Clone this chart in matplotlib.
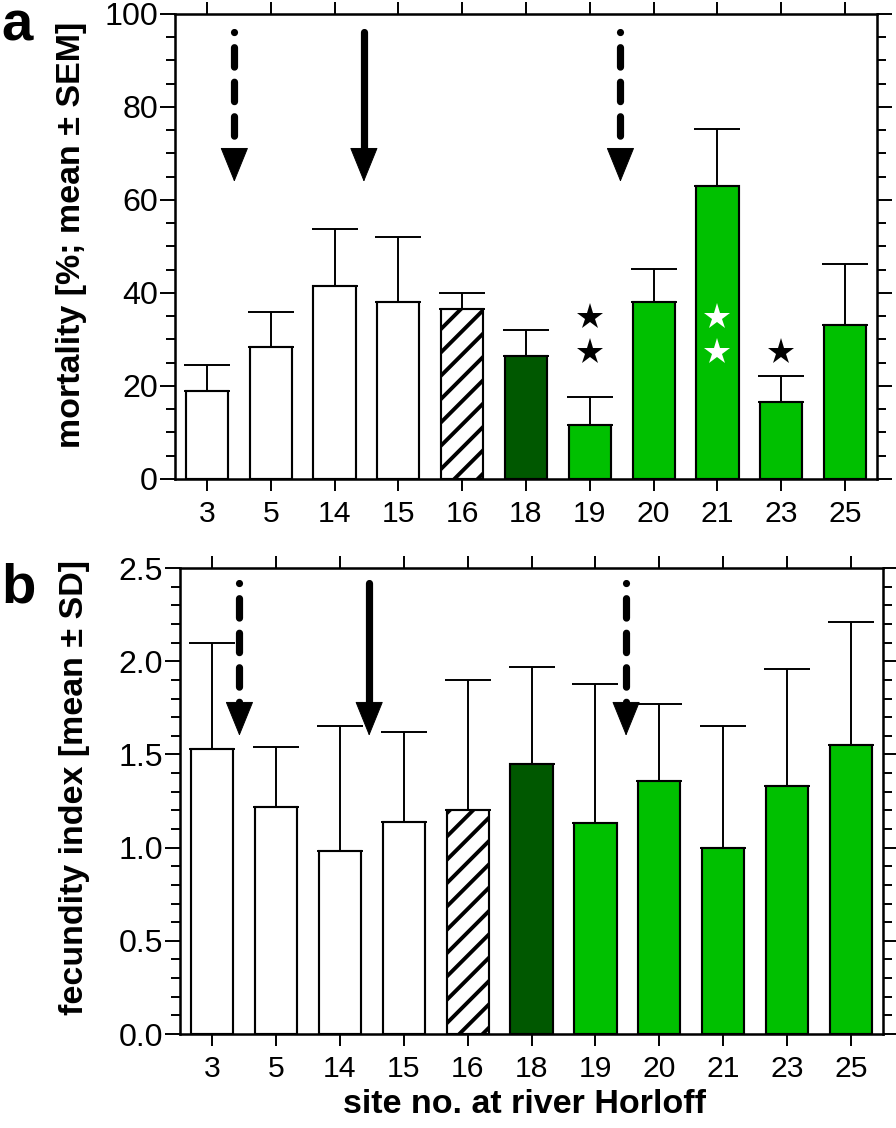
import numpy as np
import matplotlib
matplotlib.use("Agg")
import matplotlib.pyplot as plt
from matplotlib.ticker import MultipleLocator, FormatStrFormatter

plt.rcParams['font.family'] = ['Liberation Sans', 'DejaVu Sans']
plt.rcParams['hatch.linewidth'] = 2.0

# ------------------------------------------------------------ data
sites = ["3", "5", "14", "15", "16", "18", "19", "20", "21", "23", "25"]
bar_style = ["open", "open", "open", "open", "hatch", "dark",
             "green", "green", "green", "green", "green"]

mortality_mean = [18.9, 28.4, 41.6, 38.1, 36.6, 26.5, 11.7, 38.1, 63.1, 16.5, 33.2]
mortality_sem = [5.5, 7.6, 12.2, 13.9, 3.3, 5.5, 5.9, 7.1, 12.2, 5.6, 13.0]

fecundity_mean = [1.53, 1.22, 0.98, 1.14, 1.20, 1.45, 1.13, 1.36, 1.00, 1.33, 1.55]
fecundity_sd = [0.57, 0.32, 0.67, 0.48, 0.70, 0.52, 0.75, 0.41, 0.65, 0.63, 0.66]

# significance stars (site index, height, colour)
star_site = [6, 6, 8, 8, 9]
star_y = [34.9, 27.2, 34.9, 27.2, 27.2]
star_col = ["k", "k", "w", "w", "k"]

# arrows between sites (position, dashed?)
arrow_x = [0.43, 2.46, 6.48]
arrow_dashed = [True, False, True]

colors = {"open": "white", "hatch": "white", "dark": "#005800", "green": "#00c000"}

# ------------------------------------------------------------ helpers
def arrows(ax, y_top, y_base, y_tip):
    for xa, dashed in zip(arrow_x, arrow_dashed):
        line, = ax.plot([xa, xa], [y_top, y_base], color="k", lw=3.7,
                        solid_capstyle="round", dash_capstyle="round", zorder=4)
        if dashed:
            line.set_dashes([0.01, 2.1, 2.7, 2.1, 2.7, 2.1, 2.7, 2.1])
        ax.annotate("", xy=(xa, y_tip), xytext=(xa, y_base),
                    arrowprops=dict(arrowstyle="-|>,head_length=16.5,head_width=6.7",
                                    mutation_scale=1, color="k", lw=0.5,
                                    shrinkA=0, shrinkB=0), zorder=4)


def panel(ax, mean, err, ymax, major, minor):
    x = np.arange(len(sites))
    for i in range(len(sites)):
        st = bar_style[i]
        ax.bar(x[i], mean[i], width=0.66, color=colors[st], edgecolor="k",
               linewidth=1.1, hatch="//" if st == "hatch" else None, zorder=2)
    ax.errorbar(x, mean, yerr=[np.zeros(len(err)), err], fmt="none",
                ecolor="k", elinewidth=1.0, capsize=12, capthick=1.0, zorder=1)
    ax.set_xlim(-0.5, 10.5)
    ax.set_ylim(0, ymax)
    ax.set_xticks(x)
    ax.set_xticklabels(sites)
    ax.yaxis.set_major_locator(MultipleLocator(major))
    ax.yaxis.set_minor_locator(MultipleLocator(minor))
    ax.tick_params(which="both", direction="out", top=True, right=True,
                   labeltop=False, labelright=False, width=1.0)
    ax.tick_params(axis="y", which="major", length=7.7, pad=1, labelsize=16.5)
    ax.tick_params(axis="y", which="minor", length=4.6)
    ax.tick_params(axis="x", which="major", length=6.2, pad=4.5, labelsize=15.5)
    for s in ax.spines.values():
        s.set_linewidth(1.3)


fig = plt.figure(figsize=(6.4, 1128 / 140), dpi=140)

# ------------------------------------------------------------ a
ax1 = fig.add_axes([0.1953, 0.5754, 0.7835, 0.4122])
panel(ax1, mortality_mean, mortality_sem, 100, 20, 5)
for xs, ys, cs in zip(star_site, star_y, star_col):
    ax1.plot(xs, ys, marker="*", ms=14, color=cs, mew=0, zorder=5)
arrows(ax1, 96.2, 71.0, 63.9)
ax1.set_ylabel("mortality [%; mean ± SEM]", fontsize=17.5, fontweight="bold")
ax1.yaxis.set_label_coords(-0.125, 0.525)

# ------------------------------------------------------------ b
ax2 = fig.add_axes([0.2009, 0.0833, 0.7846, 0.4131])
panel(ax2, fecundity_mean, fecundity_sd, 2.5, 0.5, 0.1)
ax2.yaxis.set_major_formatter(FormatStrFormatter("%.1f"))
arrows(ax2, 2.42, 1.776, 1.60)
ax2.set_ylabel("fecundity index [mean ± SD]", fontsize=17.5, fontweight="bold")
ax2.yaxis.set_label_coords(-0.128, 0.53)
ax2.set_xlabel("site no. at river Horloff", fontsize=17.5, fontweight="bold")
ax2.xaxis.set_label_coords(0.49, -0.118)

fig.text(0.002, 0.9645, "a", fontsize=29, fontweight="bold")
fig.text(0.002, 0.4663, "b", fontsize=29, fontweight="bold")

fig.savefig("out.png", dpi=140)
